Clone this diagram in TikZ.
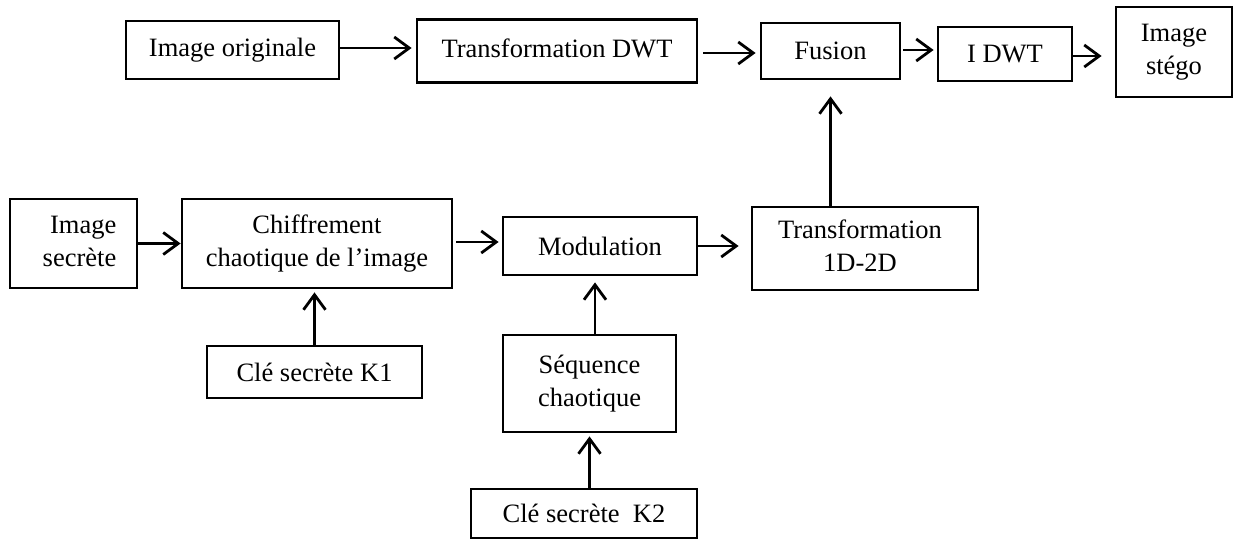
\documentclass[tikz,border=0pt]{standalone}
\usepackage{fontspec}
\setmainfont{Liberation Serif}
\usetikzlibrary{arrows.meta}
\begin{document}
\begin{tikzpicture}[x=1pt,y=-1pt,
  box/.style={draw,line width=2.8pt,inner sep=0pt,align=center,
    font=\fontsize{26.5}{33}\selectfont},
  arr/.style={line width=2.8pt,-{Straight Barb[length=15pt,width=22pt,line width=2.8pt]}}]
\useasboundingbox (0,0) rectangle (1236,540);
% top row
\node[box,minimum width=213pt,minimum height=58pt] (orig) at (232.5,50) {Image originale};
\node[box,minimum width=280pt,minimum height=63pt] (dwt) at (557,51) {\raisebox{6pt}{Transformation DWT}};
\node[box,minimum width=139pt,minimum height=56pt] (fus) at (830.5,51) {Fusion};
\node[box,minimum width=134pt,minimum height=54pt] (idwt) at (1005,54) {I DWT};
\node[box,minimum width=116pt,minimum height=90pt] (stego) at (1174,52) {Image\\stégo};
% middle row
\node[box,minimum width=127pt,minimum height=89pt] (sec) at (73.5,243.5) {\hspace*{12pt}\begin{tabular}{@{}r@{}}Image\\secrète\end{tabular}};
\node[box,minimum width=270pt,minimum height=89pt] (chif) at (317,243.5) {Chiffrement\\chaotique de l’image};
\node[box,minimum width=194pt,minimum height=58pt] (mod) at (600,246) {Modulation};
\node[box,minimum width=226pt,minimum height=83pt] (tr) at (865,248.5) {\hspace*{-10pt}\begin{tabular}{@{}c@{}}Transformation\\1D-2D\end{tabular}};
% bottom
\node[box,minimum width=215pt,minimum height=52pt] (k1) at (314.5,372) {Clé secrète K1};
\node[box,minimum width=173pt,minimum height=97pt] (seq) at (589.5,383.5) {Séquence\\chaotique};
\node[box,minimum width=226pt,minimum height=49pt] (k2) at (584,513.5) {Clé secrète\ \ K2};
% connectors
\draw[arr,shorten >=4pt] ([yshift=2pt]orig.east) -- ([yshift=2pt]orig.east -| dwt.west);
\draw[arr,shorten <=5pt,shorten >=4pt] ([yshift=-2pt]dwt.east) -- ([yshift=-2pt]dwt.east -| fus.west);
\draw[arr,shorten <=2pt,shorten >=3pt] ([yshift=1pt]fus.east) -- ([yshift=1pt]fus.east -| idwt.west);
\draw[arr,shorten >=13pt] ([yshift=-2pt]idwt.east) -- ([yshift=-2pt]idwt.east -| stego.west);
\draw[arr] (sec.east) -- (chif.west);
\draw[arr,shorten <=3pt,shorten >=3pt] ([yshift=1.5pt]chif.east) -- ([yshift=1.5pt]chif.east -| mod.west);
\draw[arr,shorten >=12pt] (mod.east) -- (mod.east -| tr.west);
\draw[arr,shorten >=16pt] (tr.north -| fus.south) -- (fus.south);
\draw[arr,shorten >=3pt] (k1.north) -- (k1.north |- chif.south);
\draw[arr,shorten >=6pt] ([xshift=5.5pt]seq.north) -- ([xshift=5.5pt]seq.north |- mod.south);
\draw[arr,shorten >=3pt] (k2.north -| seq.south) -- (seq.south);
\end{tikzpicture}
\end{document}
